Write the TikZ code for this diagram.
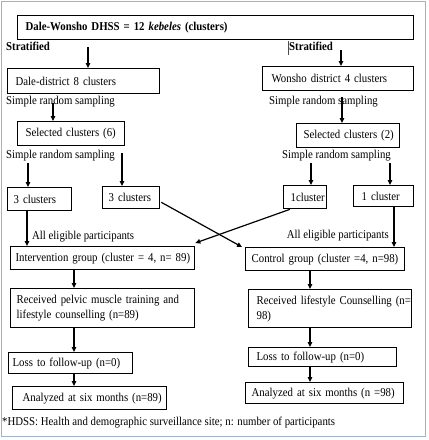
\documentclass[tikz,border=0pt]{standalone}
\usepackage{fontspec}
\setmainfont{Liberation Serif}[FakeStretch=0.9]
\usetikzlibrary{arrows.meta,calc}
\definecolor{framecol}{HTML}{9DB3CC}
\newcommand{\bx}[7]{%
  \pgfmathsetmacro{\bxw}{#4-#2-2*#6}%
  \pgfmathsetmacro{\bxh}{#5-#3}%
  \node[box, text width=\bxw pt, inner xsep=#6 pt, minimum height=\bxh pt] (#1) at (#2,#3) {#7};}
\newcommand{\myfont}{\fontsize{12}{15}\selectfont}
\begin{document}
\begin{tikzpicture}[x=1pt,y=-1pt,
  font=\myfont,
  box/.style={draw, line width=1.3pt, anchor=north west, inner ysep=0pt, align=left},
  lbl/.style={anchor=west, inner sep=0pt, text height=8pt, text depth=2.5pt},
  arr/.style={line width=1.2pt, -{Triangle[length=5pt,width=4.5pt]}}]
\useasboundingbox (0,0) rectangle (429,440);
\fill[white] (0,0) rectangle (429,440);
\draw[framecol, line width=1pt] (1.5,1.5) rectangle (425.5,436.5);

% boxes
\bx{top}{17}{15}{413}{39}{8}{\mbox{\bfseries Dale-Wonsho DHSS = 12 \textit{kebeles} (clusters)}}
\bx{dale}{7}{68}{159}{93}{8}{\mbox{Dale-district 8 clusters}}
\bx{sel6}{17}{121}{124}{145}{8}{\mbox{Selected clusters (6)}}
\bx{c3l}{7}{187}{71}{210}{6}{\mbox{3 clusters}}
\bx{c3r}{102}{186}{159}{208}{6}{\mbox{3 clusters}}
\bx{won}{262}{66}{413}{90}{9}{\mbox{Wonsho district 4 clusters}}
\bx{sel2}{296}{123}{399}{147}{7}{\mbox{Selected clusters (2)}}
\bx{c1a}{283}{185}{326}{208}{7}{\mbox{1cluster}}
\bx{c1b}{353}{185}{413}{206}{8}{\mbox{1 cluster}}
\bx{int}{10}{246}{194}{269}{5}{\mbox{Intervention group (cluster = 4, n= 89)}}
\bx{recl}{10}{288}{194}{327}{6}{\mbox{Received pelvic muscle training and}\\\mbox{lifestyle counselling (n=89)}}
\bx{lossl}{8}{352}{132}{373}{4}{\mbox{Loss to follow-up (n=0)}}
\bx{anl}{12}{386}{166}{409}{10}{\mbox{Analyzed at six months (n=89)}}
\bx{ctrl}{245}{247}{404}{270}{6}{\mbox{Control group (cluster =4, n=98)}}
\bx{recr}{248}{289}{411}{327}{8}{\mbox{Received lifestyle Counselling (n=}\\\mbox{98)}}
\bx{lossr}{248}{347}{396}{366}{8}{\mbox{Loss to follow-up (n=0)}}
\bx{anr}{245}{382}{403}{403}{6}{\mbox{Analyzed at six months (n =98)}}

% labels
\node[lbl, font=\myfont\bfseries] (strl) at (6,48) {Stratified};
\node[lbl, font=\myfont\bfseries] (strr) at (289,48) {Stratified};
\draw[line width=0.5pt, black!70] (288,41) -- (288,55);
\node[lbl] (srs1) at (6,102) {Simple random sampling};
\node[lbl] (srs2) at (6,156) {Simple random sampling};
\node[lbl] (srs3) at (269,102) {Simple random sampling};
\node[lbl] (srs4) at (282,156) {Simple random sampling};
\node[lbl] (aep1) at (32,237) {All eligible participants};
\node[lbl, anchor=east] (aep2) at (389,236) {All eligible participants};
\node[lbl] (foot) at (2,423) {*HDSS: Health and demographic surveillance site; n: number of participants};

% column coordinates
\coordinate (p1) at (88,47);
\coordinate (p2) at (341,50);
\coordinate (p3) at (53,103);
\coordinate (p4) at (342,97);
\coordinate (p5) at (28,163);
\coordinate (p6) at (122,153);
\coordinate (p7) at (311,163);
\coordinate (p8) at (390,163);
\coordinate (xa) at (27,0);
\coordinate (xb) at (394,0);
\coordinate (xc) at (74,0);
\coordinate (xd) at (310,0);

% connectors
\draw[arr] (p1) -- (p1 |- dale.north);
\draw[arr] (p2) -- (p2 |- won.north);
\draw[arr] (p3) -- (p3 |- sel6.north);
\draw[arr] (p4) -- (p4 |- sel2.north);
\draw[arr] (p5) -- (p5 |- c3l.north);
\draw[arr] (p6) -- (p6 |- c3r.north);
\draw[arr] (p7) -- (p7 |- c1a.north);
\draw[arr] (p8) -- (p8 |- c1b.north);
\draw[arr] (c3l.south -| xa) -- (int.north -| xa);
\draw[arr] (c1b.south -| xb) -- (ctrl.north -| xb);
\draw[arr] ($(c3r.south east)+(1,-7)$) -- ($(ctrl.north west)+(-3,0)$);
\draw[arr] ($(c1a.south west)+(7,0)$) -- ($(int.north east)+(0,-3)$);
\draw[arr] (int.south -| xc) -- (recl.north -| xc);
\draw[arr] (recl.south -| xc) -- (lossl.north -| xc);
\draw[arr] (lossl.south -| xc) -- (anl.north -| xc);
\draw[arr] (ctrl.south -| xd) -- (recr.north -| xd);
\draw[arr] (recr.south -| xd) -- (lossr.north -| xd);
\draw[arr] (lossr.south -| xd) -- (anr.north -| xd);
\end{tikzpicture}
\end{document}
